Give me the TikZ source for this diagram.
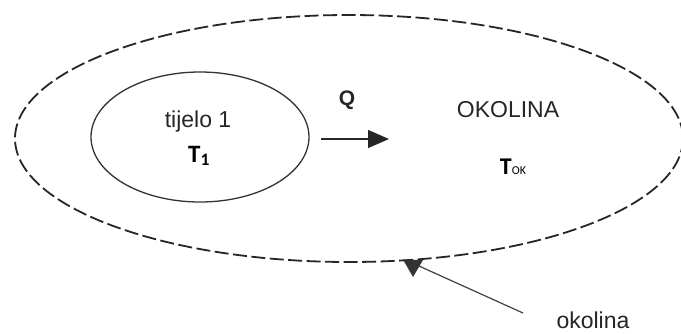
\documentclass[tikz,border=0pt]{standalone}
\usepackage{fontspec}
\setmainfont{Liberation Sans}
\newfontfamily\calfont{Carlito}
\usetikzlibrary{arrows.meta}
\begin{document}
\begin{tikzpicture}[x=1pt,y=-1pt,
  lbl/.style={inner sep=0pt,text=black!85,font=\fontsize{23}{26}\selectfont},
  tsym/.style={inner sep=0pt,font=\calfont\bfseries\fontsize{25}{28}\selectfont},
  outerell/.style={draw=black!85,line width=1.8pt,dash pattern=on 14pt off 4.5pt},
  innerell/.style={draw=black!80,line width=1.3pt},
  flow/.style={draw=black!85,line width=1.2pt,-{Triangle[length=21pt,width=18pt]}},
  pointer/.style={draw=black!75,line width=1.2pt}]
\useasboundingbox (0,0) rectangle (681,333);
\fill[white] (0,0) rectangle (681,333);
% outer dashed ellipse (surroundings boundary)
\draw[outerell] (349,138.5) ellipse [x radius=334, y radius=123.5];
% inner ellipse (body)
\draw[innerell] (200,137) ellipse [x radius=109, y radius=65];
% texts
\node[lbl,anchor=base] (tijelo) at (198,127) {tijelo 1};
\node[tsym,anchor=base] (t1) at (199,162) {T\textsubscript{1}};
\node[lbl,anchor=base,font=\bfseries\fontsize{21}{24}\selectfont] (q) at (347,105) {Q};
\node[lbl,anchor=base] (okolinaBig) at (508,117) {OKOLINA};
\node[tsym,anchor=base,font=\calfont\bfseries\fontsize{24}{27}\selectfont] (tok) at (513,174) {T\raisebox{0pt}{\mdseries\fontsize{12}{12}\selectfont OK}};
\node[lbl,anchor=base] (okolina) at (593,328) {okolina};
% heat flow arrow
\coordinate (qa) at (321,139);
\coordinate (qb) at (389,139);
\draw[flow] (qa) -- (qb);
% pointer from label to boundary
\coordinate (pend) at (523,313);
\coordinate (ptip) at (419,266);
\draw[pointer] (pend) -- (ptip);
\fill[black!80] (403,259.5) -- (423,260) -- (413,277) -- cycle;
\end{tikzpicture}
\end{document}
